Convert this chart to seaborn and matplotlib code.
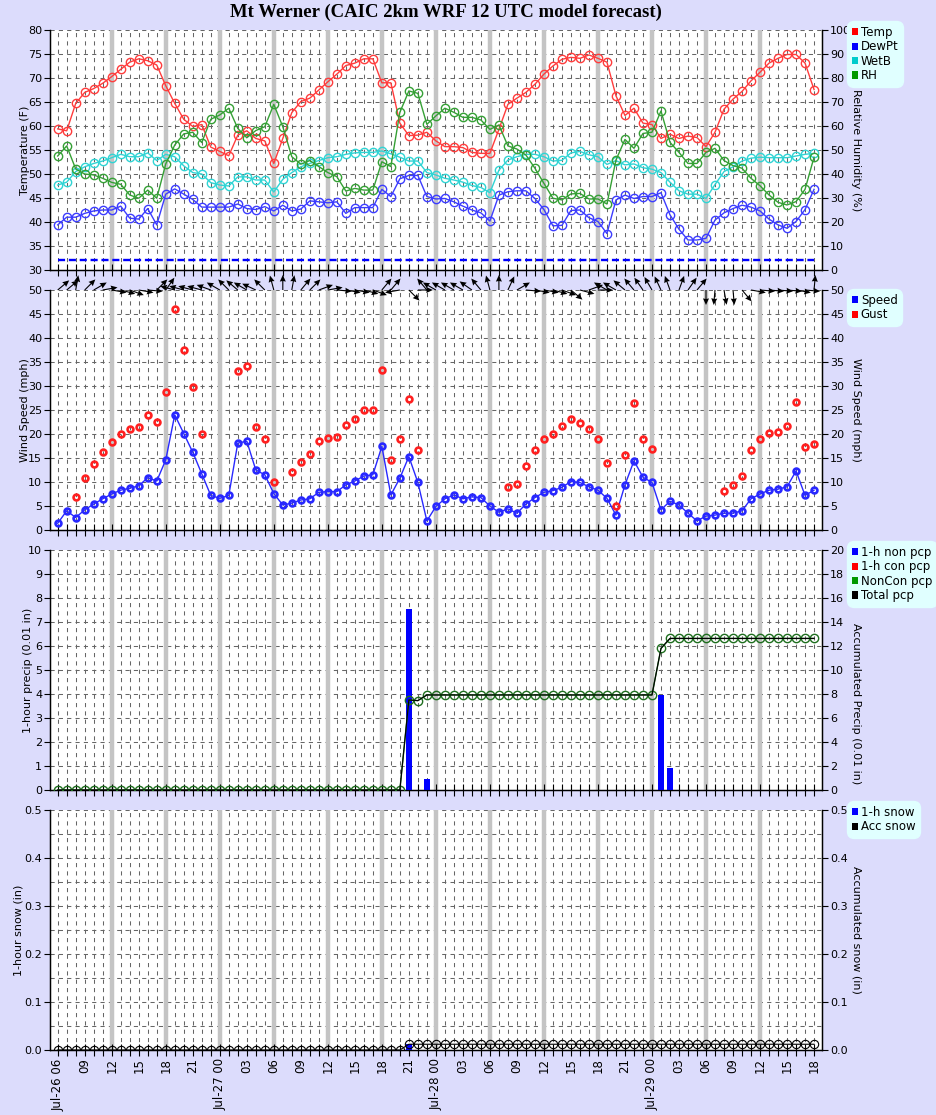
import numpy as np
import pandas as pd
import matplotlib
matplotlib.use("Agg")
import matplotlib.pyplot as plt
import seaborn as sns
from matplotlib.patches import Patch

nan = np.nan
hours = list(range(85))

tick_labels = ["Jul-26 06", "09", "12", "15", "18", "21",
               "Jul-27 00", "03", "06", "09", "12", "15", "18", "21",
               "Jul-28 00", "03", "06", "09", "12", "15", "18", "21",
               "Jul-29 00", "03", "06", "09", "12", "15", "18"]

temp = [59.4, 59.0, 64.7, 67.0, 67.8, 68.9, 70.3, 71.8, 73.3, 74.0,
        73.6, 72.7, 68.4, 64.7, 61.4, 59.9, 60.3, 55.6, 54.7, 53.8,
        58.1, 59.0, 57.4, 56.9, 52.2, 57.4, 62.8, 65.1, 65.8, 67.5,
        69.2, 70.8, 72.6, 73.1, 74.0, 74.0, 69.0, 69.0, 60.6, 58.0,
        58.1, 58.7, 56.9, 55.7, 55.7, 55.5, 54.5, 54.3, 54.3, 59.3,
        64.5, 65.8, 67.0, 68.7, 70.8, 72.5, 73.9, 74.3, 74.1, 74.8,
        74.1, 73.3, 66.3, 62.2, 63.7, 60.6, 60.3, 57.4, 58.3, 57.4,
        57.9, 57.6, 55.7, 58.7, 63.5, 65.6, 67.2, 69.4, 71.2, 73.1,
        74.1, 74.9, 74.9, 73.1, 67.6]

dewpt = [39.4, 41.0, 41.0, 41.8, 42.3, 42.5, 42.5, 43.3, 40.8, 40.6,
         42.8, 39.4, 45.8, 46.9, 45.8, 44.7, 43.1, 43.1, 43.1, 43.1,
         43.75, 42.8, 42.6, 43.2, 42.3, 43.5, 42.3, 42.7, 44.4, 44.2,
         44.0, 44.2, 41.8, 43.0, 43.0, 43.0, 46.8, 45.3, 49.0, 49.7,
         49.7, 45.3, 44.8, 44.9, 44.2, 43.3, 42.5, 41.9, 40.2, 45.6,
         46.3, 46.5, 46.5, 44.9, 42.6, 39.2, 39.3, 42.4, 42.5, 40.9,
         40.1, 37.6, 44.6, 45.6, 44.9, 45.3, 45.3, 46.1, 41.5, 38.5,
         36.25, 36.25, 36.6, 40.4, 41.9, 42.8, 43.5, 43.1, 42.3, 40.6,
         39.4, 38.7, 40.1, 42.6, 46.8]

wetb = [47.7, 48.3, 50.5, 51.5, 52.2, 52.7, 53.4, 54.1, 53.6, 53.6,
        54.4, 52.8, 54.1, 53.6, 51.7, 50.3, 50.0, 48.2, 47.7, 47.5,
        49.4, 49.4, 48.75, 48.75, 46.25, 48.9, 50.3, 51.5, 52.2, 52.8,
        53.4, 53.6, 54.1, 54.4, 54.5, 54.5, 54.8, 54.2, 53.5, 52.7,
        52.7, 50.3, 49.8, 49.1, 48.75, 48.3, 47.6, 47.2, 46.1, 50.8,
        52.9, 53.6, 54.1, 54.1, 53.6, 52.7, 52.85, 54.4, 54.7, 54.0,
        53.6, 52.0, 52.8, 51.9, 52.1, 51.3, 51.0, 50.3, 48.3, 46.5,
        45.8, 45.8, 44.9, 47.8, 50.5, 51.5, 52.7, 53.3, 53.5, 53.4,
        53.4, 53.4, 53.75, 54.1, 54.3]

rh = [47.5, 51.7, 42.1, 40.0, 39.6, 38.2, 36.5, 35.7, 31.25, 29.9,
      33.3, 29.9, 44.2, 52.1, 56.7, 57.4, 53.1, 62.8, 64.6, 67.4,
      59.0, 55.1, 58.1, 59.7, 69.0, 59.7, 47.2, 44.1, 45.6, 43.1,
      40.6, 38.9, 32.9, 34.0, 33.3, 33.3, 45.1, 43.1, 65.7, 74.6,
      73.6, 60.7, 64.2, 67.4, 65.7, 63.6, 63.6, 62.5, 58.6, 60.4,
      51.7, 50.4, 47.9, 42.4, 36.1, 29.9, 29.2, 31.7, 31.9, 29.6,
      29.6, 27.5, 45.8, 54.4, 50.7, 56.9, 57.4, 66.25, 53.2, 49.0,
      44.4, 44.4, 49.0, 50.7, 45.6, 43.5, 42.4, 38.2, 35.1, 31.25,
      28.2, 27.1, 28.5, 33.6, 47.0]

freezing = 32

speed = [1.4, 4.0, 2.6, 4.2, 5.4, 6.5, 7.5, 8.3, 8.7, 9.2,
         10.9, 10.2, 14.6, 24.0, 20.1, 16.2, 11.7, 7.2, 6.6, 7.2,
         18.1, 18.5, 12.5, 11.5, 7.6, 5.2, 5.6, 6.25, 6.5, 7.85,
         8.0, 8.0, 9.4, 10.2, 11.25, 11.5, 17.4, 7.3, 10.8, 15.3,
         9.9, 1.9, 4.9, 6.5, 7.3, 6.5, 6.9, 6.75, 5.0, 3.7,
         4.4, 3.5, 5.4, 6.75, 7.85, 8.2, 8.9, 10.1, 9.9, 9.0,
         8.3, 6.6, 3.1, 9.4, 14.4, 11.0, 9.9, 4.2, 6.0, 5.2,
         3.5, 1.9, 2.9, 3.1, 3.5, 3.5, 4.0, 6.5, 7.5, 8.3,
         8.5, 9.0, 12.3, 7.2, 8.3]

gust = [nan, nan, 6.8, 10.8, 13.75, 16.2, 18.4, 20.0, 21.0, 21.5,
        24.0, 22.4, 28.7, 46.0, 37.5, 29.7, 20.1, nan, nan, nan,
        33.1, 34.2, 21.4, 19.0, 9.9, nan, 12.0, 14.1, 15.8, 18.5,
        19.2, 19.4, 21.9, 23.1, 25.0, 25.0, 33.3, 14.6, 19.0, 27.3,
        16.7, nan, nan, nan, nan, nan, nan, nan, nan, nan,
        8.9, 9.6, 13.3, 16.7, 19.0, 20.1, 21.6, 23.1, 22.2, 21.0,
        18.9, 13.9, 5.1, 15.6, 26.4, 18.9, 16.8, nan, nan, nan,
        nan, nan, nan, nan, 8.1, 9.4, 11.25, 16.7, 18.9, 20.3,
        20.5, 21.7, 26.6, 17.2, 17.9]

# direction each wind arrow points (compass degrees, 0 = up)
wind_dir = [50, 50, 10, 45, 60, 80, 100, 105, 110, 100,
            95, 45, 35, 285, 285, 285, 285, 290, 300, 315,
            310, 300, 295, 315, 345, 0, 10, 40, 45, 70,
            80, 95, 100, 100, 105, 110, 40, 40, 260, 135,
            90, 320, 300, 300, 300, 300, 305, 320, 345, 0,
            25, 60, 95, 100, 100, 105, 110, 130, 105, 70,
            90, 300, 300, 310, 320, 325, 330, 335, 340, 20,
            35, 40, 180, 185, 170, 175, 140, 100, 95, 95,
            95, 95, 100, 95, 5]

pcp_non = [0.0] * 39 + [7.55, 0.0, 0.45] + [0.0] * 25 + [3.95, 0.9] + [0.0] * 16
pcp_con = [0.0] * 85
acc_noncon = [0.0] * 39 + [7.5, 7.45] + [7.92] * 26 + [11.8] + [12.63] * 17
acc_total = [0.0] * 39 + [7.5, 7.45] + [7.92] * 26 + [11.8] + [12.63] * 17

snow_1h = [0.0] * 39 + [0.013] + [0.0] * 45
acc_snow = [0.0] * 39 + [0.012] * 46

# ---------------------------------------------------------------- styling
BG = '#dcdcfc'
FS = 8
plt.rcParams['font.family'] = ['DejaVu Sans']
plt.rcParams['font.size'] = FS

fig = plt.figure(figsize=(9.37, 11.15), dpi=100, facecolor=BG)
L = 50.5 / 937
W = (821.7 - 50.5) / 937
H = 240 / 1115
bottoms = [1 - 270 / 1115, 1 - 530 / 1115, 1 - 790 / 1115, 1 - 1050 / 1115]
axes = [fig.add_axes([L, b, W, H]) for b in bottoms]

xt = hours[::3]
GRID = '#666666'


def base_style(ax, ylim, yticks, gridstep, ylabel, lx):
    ax.set_facecolor('white')
    ax.set_xlim(-0.8, 84.85)
    ax.set_ylim(*ylim)
    for h in hours:
        ax.axvline(h, color=GRID, lw=0.75, ls=(0, (4, 4)), zorder=0.5)
    for y in np.arange(ylim[0] + gridstep, ylim[1] + 1e-9, gridstep):
        ax.axhline(y, color=GRID, lw=0.75, ls=(0, (4, 4)), zorder=0.5)
    for h in range(6, 84, 6):
        ax.axvline(h, color='#c4c4c4', lw=3.2, zorder=0.7)
    ax.set_yticks(yticks)
    ax.set_xticks(xt)
    ax.set_xticks(hours, minor=True)
    ax.tick_params(axis='x', which='both', direction='inout', length=8,
                   width=0.8, top=False)
    ax.tick_params(axis='y', direction='out', length=4, width=0.8,
                   labelsize=FS, pad=2)
    ax.spines['top'].set_visible(False)
    for s in ['left', 'bottom', 'right']:
        ax.spines[s].set_linewidth(1.0)
        ax.spines[s].set_color('black')
    ax.set_ylabel(ylabel, fontsize=FS, rotation=90, ha='center', va='center')
    ax.yaxis.set_label_coords(lx, 0.5)


def right_axis(ax, ylim, yticks, label, ly=0.5):
    ax2 = ax.twinx()
    ax2.set_xlim(-0.8, 84.85)
    ax2.set_ylim(*ylim)
    ax2.set_yticks(yticks)
    ax2.tick_params(axis='y', direction='out', length=4, width=0.8,
                    labelsize=FS, pad=2)
    ax2.spines['top'].set_visible(False)
    ax2.set_ylabel(label, rotation=270, ha='center', va='center', fontsize=FS)
    ax2.yaxis.set_label_coords(1.0445, ly)
    return ax2


def line(ax, y, color, lw=1.0, ms=6.0, mew=1.0, ls='-', z=3):
    sns.lineplot(x=hours, y=y, ax=ax, color=color, lw=lw, ls=ls,
                 marker='o', markersize=ms, markerfacecolor='none',
                 markeredgecolor=color, markeredgewidth=mew, zorder=z)


def legend(items, ypix):
    handles = [Patch(facecolor=c, edgecolor='none', label=l) for l, c in items]
    lg = fig.legend(handles=handles, loc='upper left',
                    bbox_to_anchor=(849 / 937, 1 - (ypix + 1) / 1115),
                    fontsize=FS + 0.5, frameon=True, facecolor='#e0ffff',
                    edgecolor='#e0ffff', framealpha=1, fancybox=True,
                    handlelength=0.55, handleheight=0.55, handletextpad=0.2,
                    labelspacing=0.12, borderpad=0.25, borderaxespad=0)
    lg.get_frame().set_boxstyle('round,pad=0.15,rounding_size=0.6')


# ---------------------------------------------------------------- panel 1
ax = axes[0]
base_style(ax, (30, 80), range(30, 81, 5), 5, 'Temperature (F)', -0.033)
ax.hlines(freezing, 0, 84, color='#0000ff', lw=1.7, ls=(0, (3.0, 1.6)),
          zorder=2)
line(ax, temp, '#ff3c3c')
line(ax, dewpt, '#3c3cff')
line(ax, wetb, '#30d4d4')
ax2 = right_axis(ax, (0, 100), range(0, 101, 10), 'Relative Humidity (%)')
line(ax2, rh, '#35a035')
legend([('Temp', '#ff0000'), ('DewPt', '#0000ff'), ('WetB', '#00cccc'),
        ('RH', '#009900')], 22)

# ---------------------------------------------------------------- panel 2
ax = axes[1]
base_style(ax, (0, 50), range(0, 51, 5), 5, 'Wind Speed (mph)', -0.033)
line(ax, speed, '#2828ff', lw=1.0, ms=4.2, mew=1.9, z=4)
line(ax, gust, '#ff2020', lw=0, ms=4.2, mew=1.9, ls='none', z=4)
right_axis(ax, (0, 50), range(0, 51, 5), 'Wind Speed (mph)')
rad = np.deg2rad(wind_dir)
alen = 15
ax.quiver(hours, [50] * len(hours), alen * np.sin(rad), alen * np.cos(rad),
          angles='uv', scale_units='dots', scale=1, units='dots', width=1.1,
          headwidth=5.5, headlength=6, headaxislength=5.5, pivot='tail',
          color='black', clip_on=False, zorder=6)
legend([('Speed', '#0000ff'), ('Gust', '#ff0000')], 290)

# ---------------------------------------------------------------- panel 3
ax = axes[2]
base_style(ax, (0, 10), range(0, 11, 1), 1, '1-hour precip (0.01 in)', -0.029)
sns.barplot(x=hours, y=pcp_non, ax=ax, native_scale=True, width=0.65,
            color='#0000ff', saturation=1, zorder=3)
sns.barplot(x=hours, y=pcp_con, ax=ax, native_scale=True, width=0.65,
            color='#ff0000', saturation=1, zorder=3)
ax.set_xlim(-0.8, 84.85)
ax.set_ylim(0, 10)
ax.set_xticks(xt)
ax.set_xticks(hours, minor=True)
ax.set_ylabel('1-hour precip (0.01 in)', fontsize=FS)
ax.yaxis.set_label_coords(-0.029, 0.5)
ax2 = right_axis(ax, (0, 20), range(0, 21, 2), 'Accumulated Precip (0.01 in)',
                 ly=0.36)
line(ax2, acc_noncon, '#1e6e1e', lw=1.0, ms=6.0, mew=1.0)
sns.lineplot(x=hours, y=acc_total, ax=ax2, color='black', lw=0.8, zorder=4)
legend([('1-h non pcp', '#0000ff'), ('1-h con pcp', '#ff0000'),
        ('NonCon pcp', '#009900'), ('Total pcp', '#000000')], 542)

# ---------------------------------------------------------------- panel 4
ax = axes[3]
base_style(ax, (0, 0.5), np.round(np.arange(0, 0.51, 0.1), 1), 0.05,
           '1-hour snow (in)', -0.041)
sns.barplot(x=hours, y=snow_1h, ax=ax, native_scale=True, width=0.65,
            color='#0000ff', saturation=1, zorder=3)
ax.set_xlim(-0.8, 84.85)
ax.set_ylim(0, 0.5)
ax.set_xticks(xt)
ax.set_xticks(hours, minor=True)
ax.set_ylabel('1-hour snow (in)', fontsize=FS)
ax.yaxis.set_label_coords(-0.041, 0.5)
ax2 = right_axis(ax, (0, 0.5), np.round(np.arange(0, 0.51, 0.1), 1),
                 'Accumulated snow (in)')
line(ax2, acc_snow, '#000000', lw=0.8, ms=6.0, mew=0.8)
legend([('1-h snow', '#0000ff'), ('Acc snow', '#000000')], 802)

for a in axes[:3]:
    a.tick_params(axis='x', labelbottom=False)
    a.set_xlabel('')
axes[3].set_xticklabels(tick_labels, rotation=90, va='top', ha='center',
                        fontsize=FS + 0.5)
axes[3].set_xlabel('')
axes[3].tick_params(axis='x', pad=2)

fig.text(446 / 937, 1 - 12 / 1115,
         'Mt Werner (CAIC 2km WRF 12 UTC model forecast)',
         ha='center', va='center', fontsize=13.5, fontweight='bold',
         family='Liberation Serif')

fig.savefig('out.png', dpi=100, facecolor=BG)
